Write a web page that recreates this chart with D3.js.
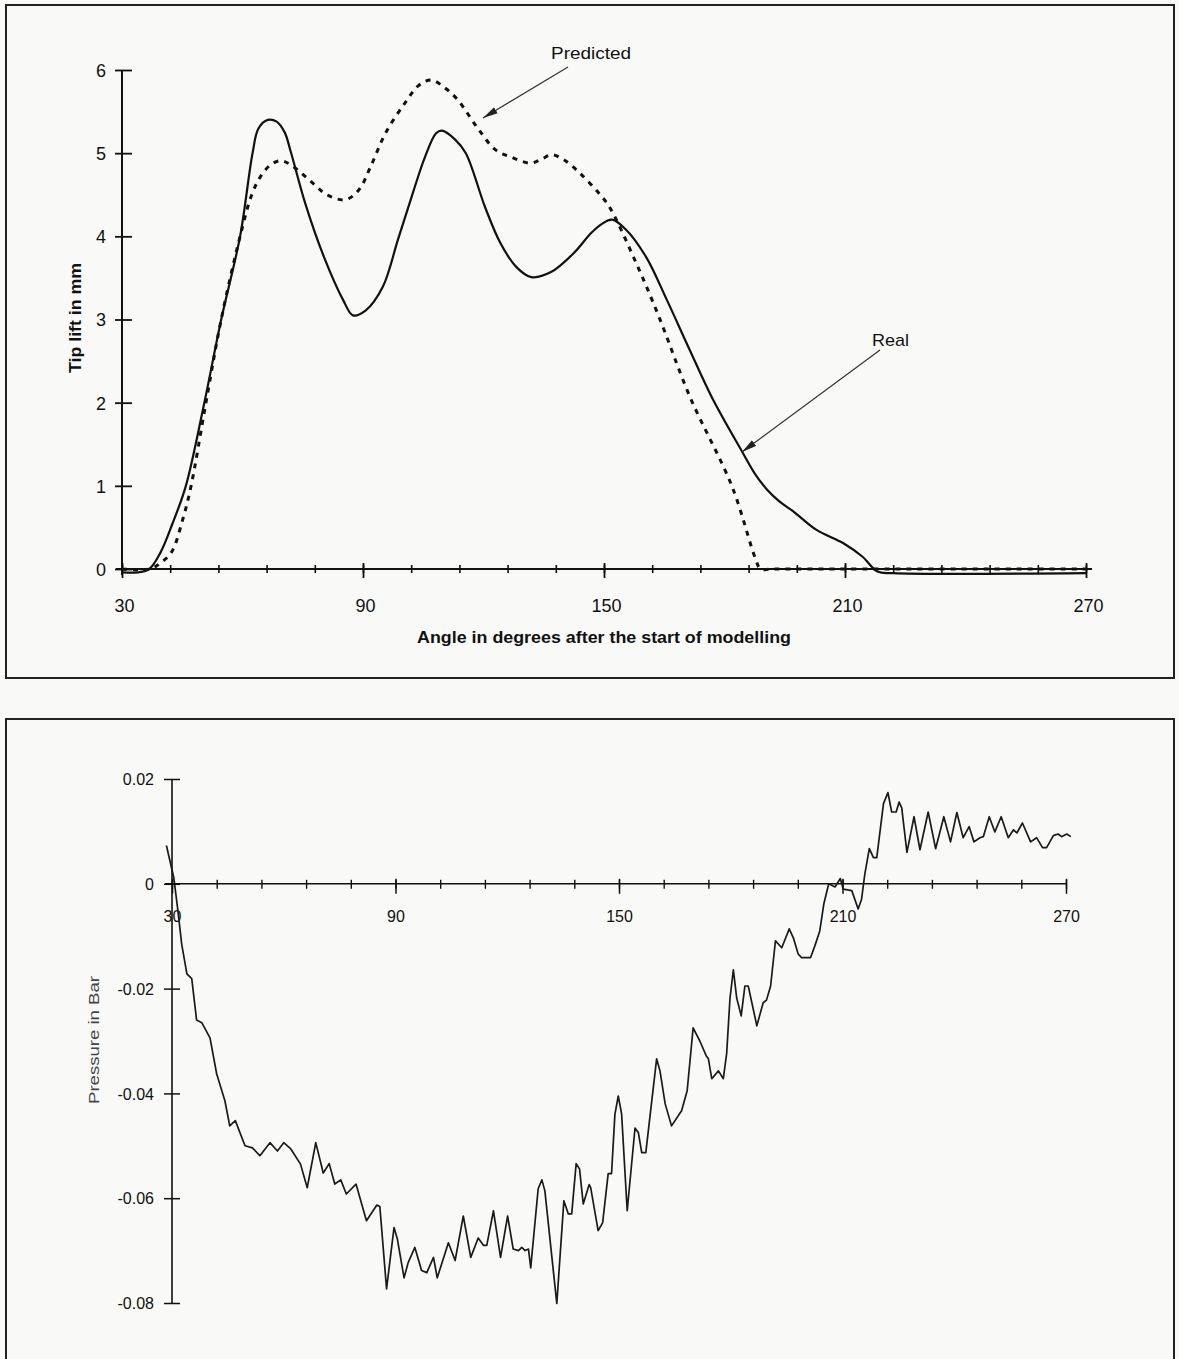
<!DOCTYPE html>
<html>
<head>
<meta charset="utf-8">
<script src="https://cdn.jsdelivr.net/npm/d3@7"></script>
<style>
  body { margin: 0; background: #f9f9f7; }
  svg { display: block; }
  text { font-family: "Liberation Sans", Arial, sans-serif; fill: #111; }
</style>
</head>
<body>
<div id="chart"></div>
<script>
// tip lift (mm) against angle (deg)
var realAngle = [30, 34, 36.8, 39.6, 42.6, 45.9, 50.5, 54.7, 59.4, 62.5, 64, 66.3, 68.5, 70.5, 72, 75.6, 80.3, 85.1, 87.5, 90.7, 94.9, 98.7, 102.4, 105.4, 108.2, 109.7, 113, 115.6, 120.4, 124.2, 128.2, 131.9, 136.8, 142.5, 146.8, 149.5, 152, 155.5, 160.5, 165.7, 171, 177, 184.4, 187.5, 190.5, 193.5, 197.2, 202.9, 209.6, 214.3, 218.1, 222, 270];
var realLift = [-0.04, -0.04, 0, 0.2, 0.55, 1.0, 2.0, 3.0, 4.0, 5.0, 5.3, 5.4, 5.38, 5.25, 5.02, 4.4, 3.75, 3.23, 3.05, 3.11, 3.39, 3.96, 4.52, 4.95, 5.24, 5.27, 5.16, 5.0, 4.35, 3.92, 3.63, 3.51, 3.57, 3.8, 4.04, 4.15, 4.2, 4.08, 3.75, 3.23, 2.67, 2.05, 1.41, 1.15, 0.96, 0.82, 0.69, 0.47, 0.31, 0.15, -0.03, -0.05, -0.05];

var predAngle = [30, 37, 39.5, 42.3, 45.2, 47.2, 50.9, 54.7, 59.4, 62.3, 64.5, 67, 69.5, 72, 77.5, 81, 85.6, 89, 92, 95.6, 100.4, 104, 107, 110, 113.6, 118.4, 123, 127, 131.8, 134.5, 137, 140, 144, 148.7, 151.4, 158, 163.7, 171.4, 181.9, 187.6, 189, 192, 270];
var predLift = [0, 0, 0.07, 0.2, 0.61, 1.0, 2.0, 3.0, 4.0, 4.5, 4.72, 4.86, 4.91, 4.86, 4.64, 4.5, 4.44, 4.56, 4.85, 5.24, 5.6, 5.82, 5.88, 5.8, 5.64, 5.31, 5.04, 4.95, 4.88, 4.93, 4.98, 4.92, 4.76, 4.52, 4.35, 3.68, 3.03, 2.07, 0.99, 0.14, 0, 0, 0];

// pressure (bar) against angle (deg)
var pressureAngle = [28.5, 30.5, 31.6, 32.6, 34, 35.3, 36.6, 38, 40.2, 42, 44.2, 45.5, 47, 49.6, 51.6, 53.6, 56.3, 58.3, 60, 61.9, 64.5, 66.3, 68.6, 70.6, 72.2, 73.7, 75.3, 76.8, 79.4, 82.2, 85, 85.8, 87.6, 89.6, 90.5, 92.3, 93.4, 95.2, 97, 98.4, 100.2, 101.2, 104.2, 106, 108.2, 110.2, 112.2, 113.6, 114.5, 116.3, 118.2, 120.1, 121.6, 123, 123.9, 124.8, 125.7, 126.3, 128.3, 129.3, 130.1, 133.3, 135.2, 136.4, 137.3, 138.5, 139.4, 140.4, 142, 142.4, 144.4, 145.6, 147.1, 148, 148.9, 149.8, 150.7, 152.2, 154.3, 155.2, 156.1, 157.2, 160.1, 161, 162.4, 164.1, 166.8, 168.3, 169.9, 171.7, 173.4, 174, 174.9, 176.7, 178, 178.9, 179.8, 180.7, 181.6, 182.8, 183.8, 184.7, 187, 188.7, 189.6, 190.7, 192, 193.7, 195.7, 196.8, 198.1, 199, 201.4, 202.6, 203.9, 205, 206.3, 208, 209.4, 210.2, 212.5, 214.2, 215.1, 216, 217.2, 218.3, 219.2, 221, 222.2, 223.2, 224.4, 225.2, 225.9, 227.3, 229.2, 230.8, 233, 235, 237.2, 239, 240.7, 242.4, 244, 245.3, 246.9, 247.8, 249.4, 250.9, 252.6, 254.5, 255.9, 256.8, 258.3, 260.5, 262.1, 263.7, 264.8, 266.6, 267.9, 268.8, 270.2, 271.3];
var pressureBar = [0.0073, 0.0011, -0.0052, -0.0115, -0.0172, -0.0181, -0.026, -0.0265, -0.0294, -0.0363, -0.0414, -0.0462, -0.0452, -0.05, -0.0504, -0.0519, -0.0494, -0.051, -0.0494, -0.0506, -0.0535, -0.058, -0.0494, -0.0552, -0.0534, -0.0573, -0.0565, -0.0592, -0.0573, -0.0643, -0.0613, -0.0616, -0.0773, -0.0656, -0.0678, -0.0752, -0.0723, -0.0694, -0.0738, -0.0742, -0.0713, -0.0752, -0.0685, -0.0719, -0.0634, -0.0713, -0.0676, -0.069, -0.069, -0.0624, -0.0713, -0.0634, -0.0697, -0.07, -0.0694, -0.07, -0.0697, -0.0733, -0.0582, -0.0565, -0.0586, -0.0801, -0.0605, -0.063, -0.063, -0.0534, -0.0544, -0.0611, -0.0574, -0.058, -0.0662, -0.0647, -0.0553, -0.0553, -0.044, -0.0405, -0.0439, -0.0624, -0.0466, -0.0475, -0.0513, -0.0513, -0.0334, -0.0357, -0.042, -0.0462, -0.0433, -0.0395, -0.0275, -0.03, -0.0328, -0.0334, -0.0372, -0.0357, -0.0372, -0.0324, -0.0218, -0.0164, -0.0218, -0.0252, -0.0195, -0.0195, -0.0271, -0.0227, -0.0222, -0.0195, -0.0109, -0.0122, -0.0086, -0.0103, -0.0134, -0.0141, -0.0141, -0.0118, -0.009, -0.0038, 0, -0.0006, 0.001, -0.001, -0.0013, -0.0048, -0.003, 0.0019, 0.0067, 0.005, 0.005, 0.0153, 0.0174, 0.0137, 0.0137, 0.0156, 0.0145, 0.006, 0.0128, 0.0065, 0.0137, 0.0067, 0.0128, 0.008, 0.0136, 0.0088, 0.0109, 0.008, 0.0088, 0.009, 0.0128, 0.0099, 0.0128, 0.0088, 0.0103, 0.0097, 0.0116, 0.008, 0.0088, 0.0069, 0.0069, 0.0092, 0.0095, 0.009, 0.0095, 0.009];

var liftTicks = [0, 1, 2, 3, 4, 5, 6];
var pressureTicks = [0.02, 0, -0.02, -0.04, -0.06, -0.08];
var angleLabels = [30, 90, 150, 210, 270];
var angleMinor = d3.range(30, 271, 12);

var svg = d3.select("#chart").append("svg")
  .attr("width", 1179)
  .attr("height", 1359);

var defs = svg.append("defs");
defs.append("marker")
  .attr("id", "head")
  .attr("markerUnits", "userSpaceOnUse")
  .attr("viewBox", "0 0 15 8")
  .attr("refX", 15).attr("refY", 4)
  .attr("markerWidth", 15).attr("markerHeight", 8)
  .attr("orient", "auto")
  .append("path")
  .attr("d", "M0,0.5 L15,4 L0,7.5 Z")
  .attr("fill", "#222");

// frames
svg.append("rect").attr("x", 6).attr("y", 5).attr("width", 1168).attr("height", 673)
  .attr("fill", "none").attr("stroke", "#222").attr("stroke-width", 2);
svg.append("rect").attr("x", 6).attr("y", 719).attr("width", 1168).attr("height", 700)
  .attr("fill", "none").attr("stroke", "#222").attr("stroke-width", 2);

// ---------- top chart: tip lift ----------
var x1 = d3.scaleLinear().domain([30, 270]).range([122, 1086]);
var y1 = d3.scaleLinear().domain([0, 6]).range([569, 70]);

var topG = svg.append("g");

// axis lines
topG.append("line").attr("x1", 116).attr("x2", 1092).attr("y1", y1(0)).attr("y2", y1(0))
  .attr("stroke", "#111").attr("stroke-width", 2);
topG.append("line").attr("x1", x1(30)).attr("x2", x1(30)).attr("y1", y1(6)).attr("y2", y1(0) + 6)
  .attr("stroke", "#111").attr("stroke-width", 2);

// x ticks
var xMinor = topG.append("g").attr("transform", "translate(0," + y1(0) + ")")
  .call(d3.axisBottom(x1).tickValues(angleMinor).tickSize(0).tickFormat(""));
xMinor.select(".domain").remove();
xMinor.selectAll(".tick line").attr("y1", -4).attr("y2", 4).attr("stroke", "#111").attr("stroke-width", 1.6);

var xMajor = topG.append("g").attr("transform", "translate(0," + y1(0) + ")")
  .call(d3.axisBottom(x1).tickValues(angleLabels).tickSize(0).tickPadding(0).tickFormat(d3.format("d")));
xMajor.select(".domain").remove();
xMajor.selectAll(".tick line").attr("y1", -6).attr("y2", 9).attr("stroke", "#111").attr("stroke-width", 1.8);
xMajor.selectAll(".tick text")
  .attr("y", 43).attr("dy", 0).attr("dx", 2)
  .style("font-size", "18px").style("font-family", "Liberation Sans, Arial, sans-serif")
  .attr("fill", "#000");

// y ticks
var yAx = topG.append("g").attr("transform", "translate(" + x1(30) + ",0)")
  .call(d3.axisLeft(y1).tickValues(liftTicks).tickSize(0).tickPadding(0).tickFormat(d3.format("d")));
yAx.select(".domain").remove();
yAx.selectAll(".tick line").attr("x1", -7).attr("x2", 10).attr("stroke", "#111").attr("stroke-width", 1.8);
yAx.selectAll(".tick text")
  .attr("x", -16).attr("dy", "0.36em")
  .style("font-size", "18px").style("font-family", "Liberation Sans, Arial, sans-serif")
  .attr("fill", "#000");

// titles
topG.append("text")
  .attr("x", 417).attr("y", 643)
  .attr("textLength", 374).attr("lengthAdjust", "spacingAndGlyphs")
  .style("font-size", "17px").style("font-weight", "bold")
  .text("Angle in degrees after the start of modelling");

topG.append("text")
  .attr("transform", "translate(81,318) rotate(-90)")
  .attr("text-anchor", "middle")
  .attr("textLength", 110).attr("lengthAdjust", "spacingAndGlyphs")
  .style("font-size", "16px").style("font-weight", "bold")
  .text("Tip lift in mm");

// curves
var liftLine = d3.line()
  .x(function(d) { return x1(d[0]); })
  .y(function(d) { return y1(d[1]); })
  .curve(d3.curveCatmullRom.alpha(0.5));

topG.append("path")
  .datum(d3.zip(predAngle, predLift))
  .attr("d", liftLine)
  .attr("fill", "none").attr("stroke", "#111")
  .attr("stroke-width", 3).attr("stroke-dasharray", "5,6");

topG.append("path")
  .datum(d3.zip(realAngle, realLift))
  .attr("d", liftLine)
  .attr("fill", "none").attr("stroke", "#111")
  .attr("stroke-width", 2.2).attr("stroke-linejoin", "round");

// annotations
topG.append("text").attr("x", 551).attr("y", 59)
  .attr("textLength", 80).attr("lengthAdjust", "spacingAndGlyphs")
  .style("font-size", "17px").text("Predicted");
topG.append("line").attr("x1", 568).attr("y1", 67).attr("x2", 483).attr("y2", 118)
  .attr("stroke", "#333").attr("stroke-width", 1.2).attr("marker-end", "url(#head)");

topG.append("text").attr("x", 872).attr("y", 346)
  .attr("textLength", 37).attr("lengthAdjust", "spacingAndGlyphs")
  .style("font-size", "17px").text("Real");
topG.append("line").attr("x1", 880).attr("y1", 350).attr("x2", 742).attr("y2", 452)
  .attr("stroke", "#333").attr("stroke-width", 1.2).attr("marker-end", "url(#head)");

// ---------- bottom chart: pressure ----------
var x2 = d3.scaleLinear().domain([30, 270]).range([172, 1066]);
var y2 = d3.scaleLinear().domain([-0.08, 0.02]).range([1303, 779]);

var botG = svg.append("g");

botG.append("line").attr("x1", 165).attr("x2", x2(270)).attr("y1", y2(0)).attr("y2", y2(0))
  .attr("stroke", "#111").attr("stroke-width", 1.6);
botG.append("line").attr("x1", x2(30)).attr("x2", x2(30)).attr("y1", y2(0.02)).attr("y2", y2(-0.08))
  .attr("stroke", "#111").attr("stroke-width", 1.6);

var bMinor = botG.append("g").attr("transform", "translate(0," + y2(0) + ")")
  .call(d3.axisBottom(x2).tickValues(angleMinor).tickSize(0).tickFormat(""));
bMinor.select(".domain").remove();
bMinor.selectAll(".tick line").attr("y1", -4).attr("y2", 5).attr("stroke", "#111").attr("stroke-width", 1.4);

var bMajor = botG.append("g").attr("transform", "translate(0," + y2(0) + ")")
  .call(d3.axisBottom(x2).tickValues(angleLabels).tickSize(0).tickPadding(0).tickFormat(d3.format("d")));
bMajor.select(".domain").remove();
bMajor.selectAll(".tick line").attr("y1", -5).attr("y2", 10).attr("stroke", "#111").attr("stroke-width", 1.5);
bMajor.selectAll(".tick text")
  .attr("y", 38).attr("dy", 0)
  .style("font-size", "16px").style("font-family", "Liberation Sans, Arial, sans-serif")
  .attr("fill", "#111");

var bY = botG.append("g").attr("transform", "translate(" + x2(30) + ",0)")
  .call(d3.axisLeft(y2).tickValues(pressureTicks).tickSize(0).tickPadding(0)
    .tickFormat(function(d) { return d === 0 ? "0" : d.toFixed(2); }));
bY.select(".domain").remove();
bY.selectAll(".tick line").attr("x1", -8).attr("x2", 8).attr("stroke", "#111").attr("stroke-width", 1.5);
bY.selectAll(".tick text")
  .attr("x", -18).attr("dy", "0.36em")
  .style("font-size", "16px").style("font-family", "Liberation Sans, Arial, sans-serif")
  .attr("fill", "#111");

botG.append("text")
  .attr("transform", "translate(99,1040) rotate(-90)")
  .attr("text-anchor", "middle")
  .attr("textLength", 128).attr("lengthAdjust", "spacingAndGlyphs")
  .style("font-size", "15px").style("fill", "#444")
  .text("Pressure in Bar");

var pLine = d3.line()
  .x(function(d) { return x2(d[0]); })
  .y(function(d) { return y2(d[1]); });

botG.append("path")
  .datum(d3.zip(pressureAngle, pressureBar))
  .attr("d", pLine)
  .attr("fill", "none").attr("stroke", "#1a1a1a")
  .attr("stroke-width", 1.7).attr("stroke-linejoin", "round");
</script>
</body>
</html>
